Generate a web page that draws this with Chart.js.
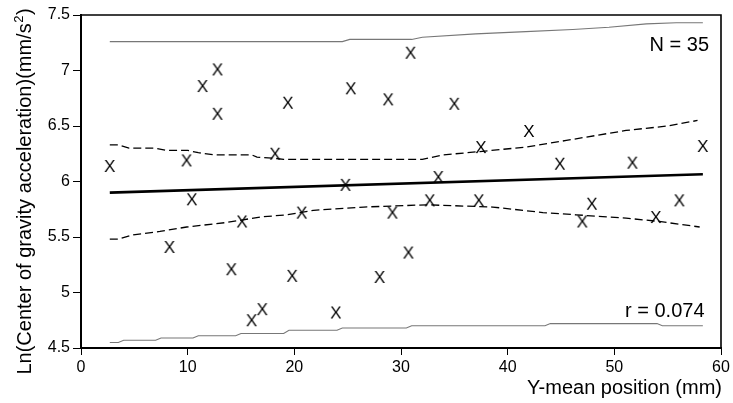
<!DOCTYPE html>
<html>
<head>
<meta charset="utf-8">
<script src="https://cdn.jsdelivr.net/npm/chart.js@4/dist/chart.umd.min.js"></script>
<style>
  html, body { margin: 0; padding: 0; background: #fff; }
  canvas { display: block; }
</style>
</head>
<body>
<canvas id="c" width="733" height="403"></canvas>
<script>
// ---- data ----
const xVals = [2.7, 8.3, 9.9, 10.4, 11.4, 12.8, 12.8, 14.1, 15.1, 16.0, 17.0, 18.2, 19.4, 19.8, 20.7, 23.9, 24.8, 25.3, 28.0, 28.8, 29.2, 30.7, 30.9, 32.7, 33.5, 35.0, 37.5, 37.3, 42.0, 44.9, 47.0, 47.9, 51.7, 53.9, 56.1, 58.3];
const yVals = [6.14, 5.41, 6.19, 5.84, 6.86, 7.01, 6.61, 5.21, 5.64, 4.75, 4.85, 6.25, 6.71, 5.15, 5.72, 4.82, 5.97, 6.84, 5.14, 6.74, 5.72, 5.36, 7.16, 5.83, 6.04, 6.70, 6.31, 5.83, 6.455, 6.16, 5.64, 5.80, 6.17, 5.68, 5.83, 6.32];

const fitX = [2.7, 58.3];
const fitY = [5.90, 6.065];

const ciUpperX = [2.7, 3.5, 4.5, 7, 8, 10, 11, 12.5, 16, 16.5, 18, 19, 32, 33, 34, 37.4, 41.7, 45.5, 51.1, 55, 57.8];
const ciUpperY = [6.33, 6.33, 6.30, 6.30, 6.28, 6.28, 6.26, 6.24, 6.24, 6.22, 6.21, 6.20, 6.20, 6.22, 6.24, 6.27, 6.31, 6.37, 6.46, 6.50, 6.55];

const ciLowerX = [2.7, 3.5, 4.9, 7.4, 9.9, 13.6, 16.8, 19.3, 21.8, 26.5, 32.4, 38.6, 43.3, 46.4, 51.1, 54.2, 58.0];
const ciLowerY = [5.48, 5.48, 5.52, 5.55, 5.59, 5.63, 5.68, 5.70, 5.74, 5.77, 5.79, 5.77, 5.72, 5.70, 5.67, 5.64, 5.59];

const piUpperX = [2.7, 24.5, 25.2, 31, 32, 37, 41.7, 46.1, 49.5, 53, 55.8, 58.3];
const piUpperY = [7.26, 7.26, 7.28, 7.28, 7.30, 7.33, 7.35, 7.37, 7.39, 7.42, 7.43, 7.43];

const piLowerX = [2.7, 3.5, 4, 7, 7.5, 10.5, 11, 14.5, 15, 19, 19.5, 24, 24.5, 30.5, 31, 43.5, 44, 54, 54.5, 58.3];
const piLowerY = [4.55, 4.55, 4.57, 4.57, 4.59, 4.59, 4.61, 4.61, 4.63, 4.63, 4.66, 4.66, 4.68, 4.68, 4.70, 4.70, 4.72, 4.72, 4.70, 4.70];

const xTicks = [0, 10, 20, 30, 40, 50, 60];
const yTicks = [4.5, 5, 5.5, 6, 6.5, 7, 7.5];

const xTitle = 'Y-mean position (mm)';
const yTitleMain = 'Ln(Center of gravity acceleration)(mm/s';
const yTitleSup = '2';
const yTitleEnd = ')';
const nLabel = 'N = 35';
const rLabel = 'r = 0.074';

// ---- helpers ----
const FONT = '"Liberation Sans", Arial, Helvetica, sans-serif';
const zip = (xs, ys) => xs.map((x, i) => ({ x: x, y: ys[i] }));

const marker = document.createElement('canvas');
marker.width = 18; marker.height = 18;
(function () {
  const m = marker.getContext('2d');
  m.fillStyle = '#000';
  m.font = '17px ' + FONT;
  m.textAlign = 'center';
  m.textBaseline = 'alphabetic';
  m.fillText('X', 9, 9 + 6.1);
})();

const textPlugin = {
  id: 'texts',
  afterDraw(chart) {
    const ctx = chart.ctx;
    const a = chart.chartArea;
    ctx.save();
    // frame top & right
    ctx.strokeStyle = '#000';
    ctx.lineWidth = 1.6;
    ctx.beginPath();
    ctx.moveTo(a.left, a.top);
    ctx.lineTo(a.right, a.top);
    ctx.lineTo(a.right, a.bottom);
    ctx.stroke();

    ctx.fillStyle = '#000';
    ctx.font = '20px ' + FONT;
    ctx.textBaseline = 'alphabetic';
    ctx.textAlign = 'right';
    ctx.fillText(nLabel, 709, 51);
    ctx.fillText(rLabel, 704.5, 317);
    ctx.fillText(xTitle, 722, 394);

    // y title rotated
    ctx.translate(31, 191.5);
    ctx.rotate(-Math.PI / 2);
    ctx.textAlign = 'left';
    ctx.font = '20px ' + FONT;
    const w1 = ctx.measureText(yTitleMain).width;
    ctx.font = '13px ' + FONT;
    const w2 = ctx.measureText(yTitleSup).width;
    ctx.font = '20px ' + FONT;
    const w3 = ctx.measureText(yTitleEnd).width;
    const total = w1 + w2 + 1 + w3;
    let x0 = -total / 2;
    ctx.fillText(yTitleMain, x0, 0);
    ctx.font = '13px ' + FONT;
    ctx.fillText(yTitleSup, x0 + w1 + 0.5, -8);
    ctx.font = '20px ' + FONT;
    ctx.fillText(yTitleEnd, x0 + w1 + w2 + 1, 0);
    ctx.restore();
  }
};

new Chart(document.getElementById('c'), {
  type: 'scatter',
  data: {
    datasets: [
      { data: zip(piUpperX, piUpperY), showLine: true, borderColor: '#777', borderWidth: 1.1, pointRadius: 0, fill: false },
      { data: zip(piLowerX, piLowerY), showLine: true, borderColor: '#777', borderWidth: 1.1, pointRadius: 0, fill: false },
      { data: zip(ciUpperX, ciUpperY), showLine: true, borderColor: '#000', borderWidth: 1.3, borderDash: [8, 4], pointRadius: 0, fill: false },
      { data: zip(ciLowerX, ciLowerY), showLine: true, borderColor: '#000', borderWidth: 1.3, borderDash: [8, 4], pointRadius: 0, fill: false },
      { data: zip(fitX, fitY), showLine: true, borderColor: '#000', borderWidth: 2.6, pointRadius: 0, fill: false },
      { data: zip(xVals, yVals), showLine: false, pointStyle: marker, pointRadius: 9, borderColor: '#000', backgroundColor: '#000' }
    ]
  },
  options: {
    responsive: false,
    animation: false,
    devicePixelRatio: 1,
    layout: { padding: { top: 15, right: 12, left: 0, bottom: 0 } },
    plugins: { legend: { display: false }, tooltip: { enabled: false } },
    scales: {
      x: {
        type: 'linear', min: 0, max: 60,
        afterBuildTicks: s => { s.ticks = xTicks.map(v => ({ value: v })); },
        ticks: { color: '#000', font: { size: 16, family: FONT }, padding: 3, maxRotation: 0, callback: v => String(v) },
        grid: { display: true, drawOnChartArea: false, drawTicks: true, tickLength: 7, color: '#000', lineWidth: 1 },
        border: { display: true, color: '#000', width: 2 },
        afterFit: s => { s.height = 55; }
      },
      y: {
        type: 'linear', min: 4.5, max: 7.5,
        afterBuildTicks: s => { s.ticks = yTicks.map(v => ({ value: v })); },
        ticks: { color: '#000', font: { size: 16, family: FONT }, padding: 3, callback: v => String(v) },
        grid: { display: true, drawOnChartArea: false, drawTicks: true, tickLength: 8, color: '#000', lineWidth: 1 },
        border: { display: true, color: '#000', width: 2 },
        afterFit: s => { s.width = 81; }
      }
    }
  },
  plugins: [textPlugin]
});
</script>
</body>
</html>
